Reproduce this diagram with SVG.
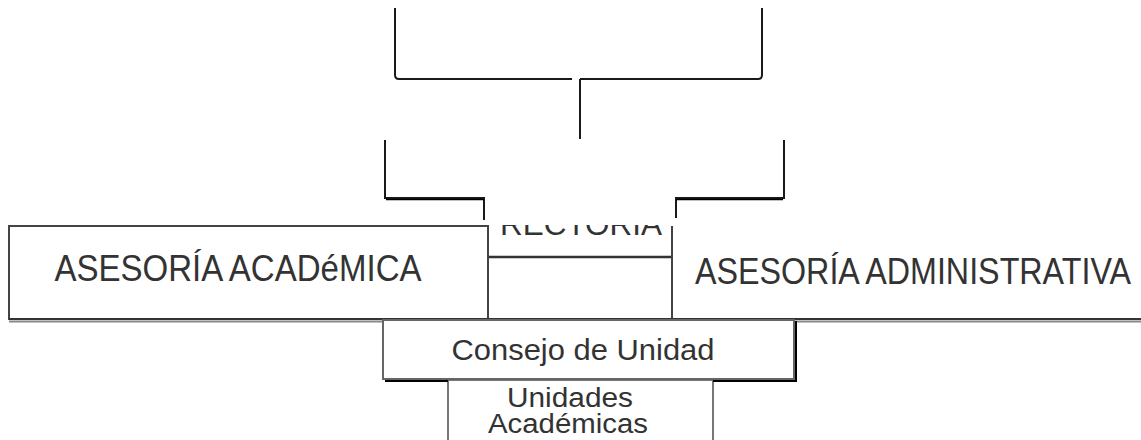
<svg xmlns="http://www.w3.org/2000/svg" width="1141" height="440" viewBox="0 0 1141 440">
<style>
.ln{fill:none;stroke:#1a1a1a;stroke-width:2}
.bx{fill:#fff;stroke:#444;stroke-width:2}
.t{font-family:"Liberation Sans",Arial,sans-serif;fill:#333;text-anchor:middle}
</style>
<rect width="1141" height="440" fill="#fff"/>
<g id="rectoria">
<path class="bx" d="M488,226 V319 M672,226 V319"/>
<path d="M488,257 H672" stroke="#333" stroke-width="2.5" fill="none"/>
<text class="t" x="581" y="235" font-size="32" textLength="162" lengthAdjust="spacingAndGlyphs">RECTORÍA</text>
<rect x="486" y="150" width="188" height="75" fill="#fff"/>
</g>
<g id="connectors">
<path class="ln" d="M395,8 V75 Q395,79 399,79 H572"/>
<path class="ln" d="M762,8 V75 Q762,79 758,79 H580"/>
<path class="ln" d="M580,79 V139"/>
<path class="ln" d="M385,140 V198 H484 V220"/>
<path class="ln" d="M784,140 V198 H676 V218"/>
<path d="M386,199.5 H484 M676,199.5 H783" stroke="#000" stroke-width="1.5" fill="none"/>
</g>
<g id="asesoria-academica">
<rect class="bx" x="9" y="226" width="479" height="93"/>
<text class="t" x="238" y="281" font-size="37" textLength="367" lengthAdjust="spacingAndGlyphs">ASESORÍA ACADéMICA</text>
</g>
<g id="asesoria-administrativa">
<path class="bx" d="M672,226 V319 H1141"/>
<text class="t" x="913" y="284" font-size="37" textLength="436" lengthAdjust="spacingAndGlyphs">ASESORÍA ADMINISTRATIVA</text>
</g>
<path d="M9,319 H1141" stroke="#333" stroke-width="2"/>
<path d="M9,321.5 H1141" stroke="#888" stroke-width="2"/>
<g id="unidades-academicas">
<rect x="448" y="380" width="265" height="70" fill="#fff" stroke="#777" stroke-width="2"/>
<text class="t" x="570" y="407" font-size="27" textLength="126" lengthAdjust="spacingAndGlyphs">Unidades</text>
<text class="t" x="568" y="433" font-size="27" textLength="160" lengthAdjust="spacingAndGlyphs">Académicas</text>
</g>
<g id="consejo-de-unidad">
<path d="M385,381 H448 M713,381 H796 V321" stroke="#000" stroke-width="2" fill="none"/>
<rect x="383" y="320" width="411" height="59" fill="#fff" stroke="#666" stroke-width="2"/>
<text class="t" x="583" y="360" font-size="30" textLength="263" lengthAdjust="spacingAndGlyphs">Consejo de Unidad</text>
</g>
</svg>
